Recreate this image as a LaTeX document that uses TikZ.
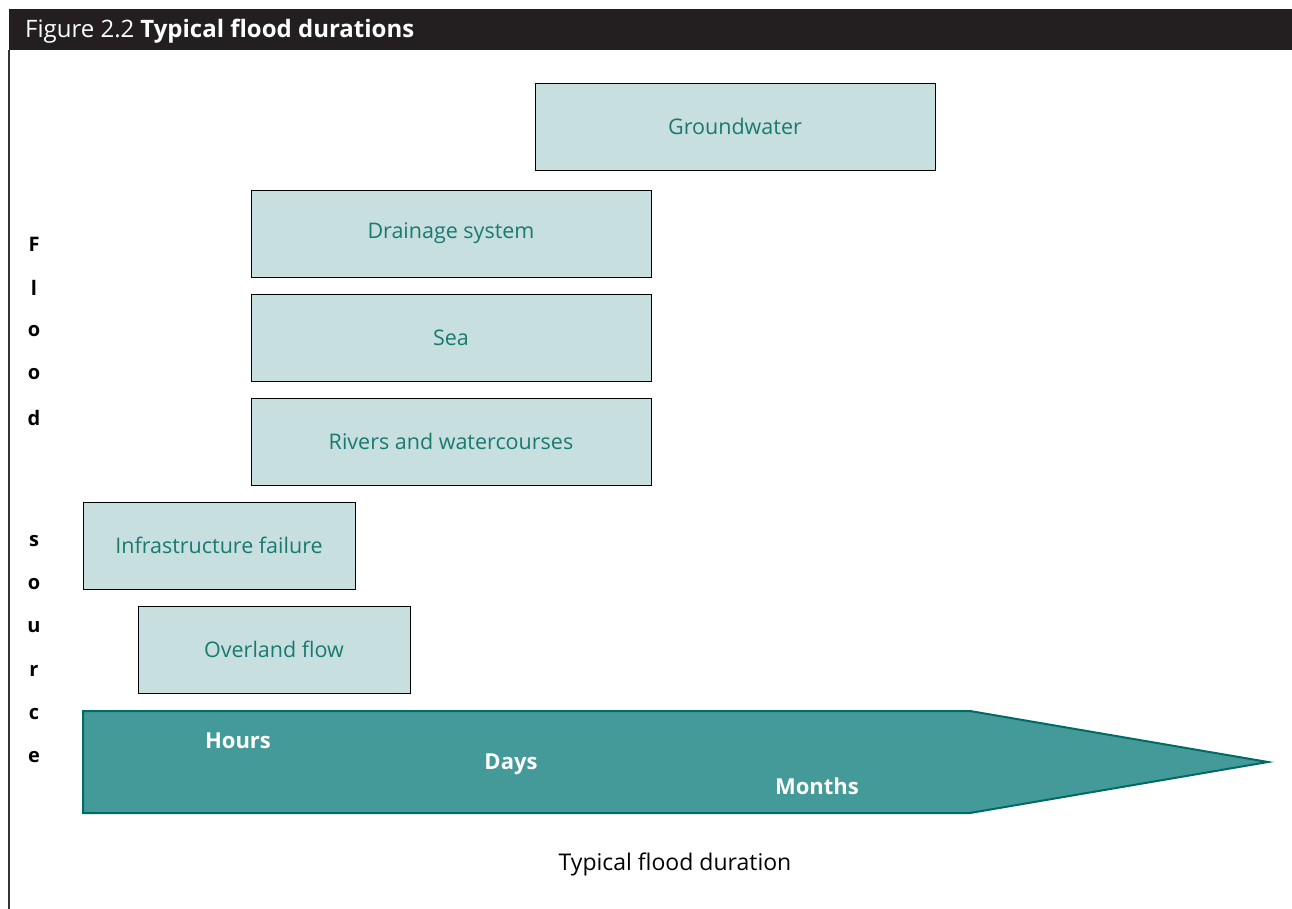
\documentclass[tikz,border=0pt]{standalone}
\usepackage{fontspec}
\setmainfont{Open Sans}
\usepackage{tikz}
\usetikzlibrary{calc}
\usetikzlibrary{positioning}
\usepackage{color}
\definecolor{headbar}{RGB}{35, 31, 32}
\definecolor{paleteal}{RGB}{200, 223, 224}
\definecolor{textteal}{RGB}{26, 122, 112}
\definecolor{arrowfill}{RGB}{67, 154, 152}
\definecolor{arrowline}{RGB}{0, 107, 102}
\tikzset{
    sourcebox/.style={draw=black, fill=paleteal, thin, minimum height=87pt, inner sep=0pt,
                      text=textteal, font=\fontsize{21.5}{26}\selectfont},
    scalelabel/.style={text=white, font=\fontsize{22}{26}\selectfont\bfseries},
    sideletter/.style={text=black, font=\fontsize{20}{24}\selectfont\bfseries}
}

\begin{document}
\begin{tikzpicture}[x=1pt, y=-1pt]
            % Frame to fix the page size:
            \useasboundingbox                                          (   0,   0) rectangle (1292, 909);
            \fill[color=headbar]                                       (   9,   9) rectangle (1292,  50);
            \draw[color=black!80, line width=1.2pt]                    (   9,  50) --        (   9, 909);
            \node[anchor=base west, text=white, inner sep=0pt,
                  font=\fontsize{24}{28}\selectfont] (title)        at (  25,  38)
                 {Figure 2.2\hspace{6pt}\textbf{Typical flood durations}};

            % Flood sources:
            \node[sourcebox, minimum width=400pt] (groundwater)      at ( 735, 126.5) {Groundwater};
            \node[sourcebox, minimum width=400pt] (drainage)         at ( 451, 233.5) {Drainage system};
            \node[sourcebox, minimum width=400pt] (sea)              at ( 451, 337.5) {Sea};
            \node[sourcebox, minimum width=400pt] (rivers)           at ( 451, 441.5) {Rivers and watercourses};
            \node[sourcebox, minimum width=272pt] (infrastructure)   at ( 219, 545.5) {Infrastructure failure};
            \node[sourcebox, minimum width=272pt] (overland)         at ( 274, 649.5) {Overland flow};

            % Duration arrow:
            \filldraw[color=arrowline, fill=arrowfill, line width=2pt]  (  83, 711) -- ( 970, 711) -- (1268, 762)
                 -- ( 970, 813) -- (  83, 813) -- cycle;
            \node[scalelabel] (hours)                                at ( 238, 741) {Hours};
            \node[scalelabel] (days)                                 at ( 511, 764) {Days};
            \node[scalelabel] (months)                               at ( 817, 786) {Months};

            % Axis titles:
            \foreach \letter [count=\i] in {F,l,o,o,d}
                \node[sideletter] (flood\i) at (34, 244+43.5*\i-43.5) {\letter};
            \foreach \letter [count=\i] in {s,o,u,r,c,e}
                \node[sideletter] (source\i) at (34, 541+43.2*\i-43.2) {\letter};
            \node[text=black, font=\fontsize{23}{27}\selectfont] (duration) at ( 675, 864) {Typical flood duration};
        \end{tikzpicture}
\end{document}
